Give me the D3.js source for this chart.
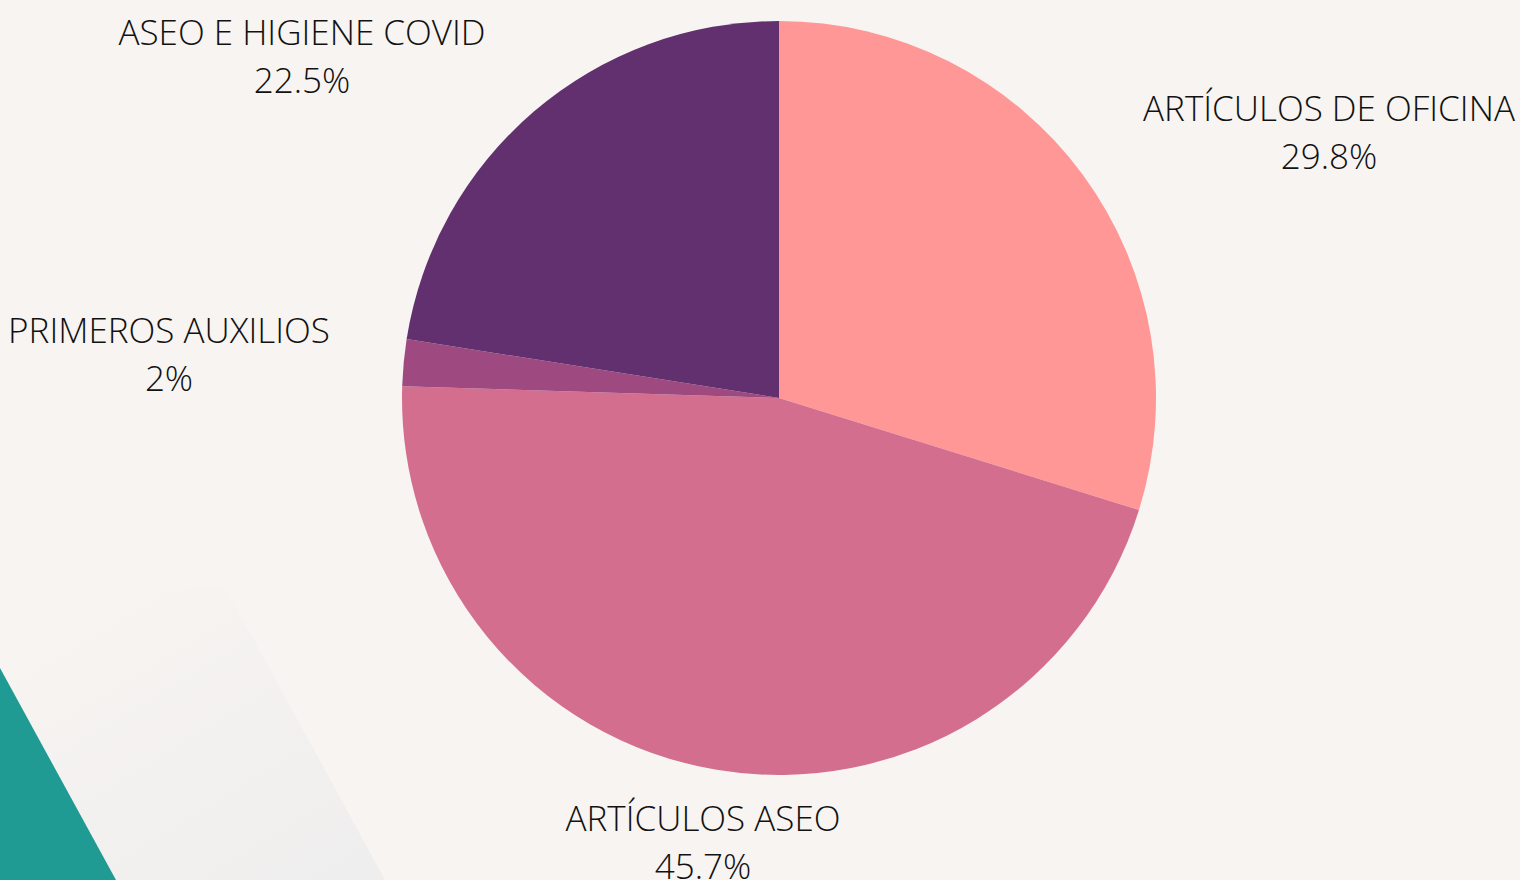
<!DOCTYPE html>
<html>
<head>
<meta charset="utf-8">
<script src="https://cdn.jsdelivr.net/npm/d3@7"></script>
<style>
  html, body { margin: 0; padding: 0; background: #f7f4f1; overflow: hidden; }
  text { font-family: "Open Sans", sans-serif; font-weight: 300; fill: #111; }
</style>
</head>
<body>
<div id="chart"></div>
<script>
// datos
var categorias = ["ARTÍCULOS DE OFICINA", "ARTÍCULOS ASEO", "PRIMEROS AUXILIOS", "ASEO E HIGIENE COVID"];
var valores = [29.8, 45.7, 2, 22.5];
var etiquetas = ["29.8%", "45.7%", "2%", "22.5%"];
var colores = ["#ff9797", "#d36e8f", "#9e4a80", "#622f6f"];

var width = 1520, height = 880;
var cx = 779, cy = 398, radio = 377;

// posiciones de las etiquetas (centro de la primera linea)
var posEtiq = [[1329, 121], [703, 831], [169, 343], [302, 45]];

var svg = d3.select("#chart").append("svg")
    .attr("width", width)
    .attr("height", height);

svg.append("rect").attr("width", width).attr("height", height).attr("fill", "#f7f4f1");

// decoracion abajo a la izquierda
var defs = svg.append("defs");
var grad = defs.append("linearGradient").attr("id", "fade")
    .attr("gradientUnits", "userSpaceOnUse")
    .attr("x1", 120).attr("y1", 600).attr("x2", 300).attr("y2", 900);
grad.append("stop").attr("offset", "0%").attr("stop-color", "#f7f4f1");
grad.append("stop").attr("offset", "100%").attr("stop-color", "#efeeee");

svg.append("path")
    .attr("d", "M225,587 L385,880 L0,880 L0,587 Z")
    .attr("fill", "url(#fade)");

svg.append("path")
    .attr("d", "M0,668 L116,880 L0,880 Z")
    .attr("fill", "#209b94");

// tarta
var pie = d3.pie().sort(null).value(function(d){ return d; });
var arc = d3.arc().innerRadius(0).outerRadius(radio);

var g = svg.append("g").attr("transform", "translate(" + cx + "," + cy + ")");

g.selectAll("path.slice")
  .data(pie(valores))
  .enter().append("path")
    .attr("class", "slice")
    .attr("d", arc)
    .attr("fill", function(d, i){ return colores[i]; });

// etiquetas
var lab = svg.selectAll("g.label")
  .data(categorias)
  .enter().append("g")
    .attr("class", "label")
    .attr("transform", function(d, i){ return "translate(" + posEtiq[i][0] + "," + posEtiq[i][1] + ")"; });

lab.append("text")
    .attr("text-anchor", "middle")
    .style("font-size", "35px")
    .text(function(d){ return d; });

lab.append("text")
    .attr("text-anchor", "middle")
    .attr("y", 48)
    .style("font-size", "35px")
    .text(function(d, i){ return etiquetas[i]; });
</script>
</body>
</html>
